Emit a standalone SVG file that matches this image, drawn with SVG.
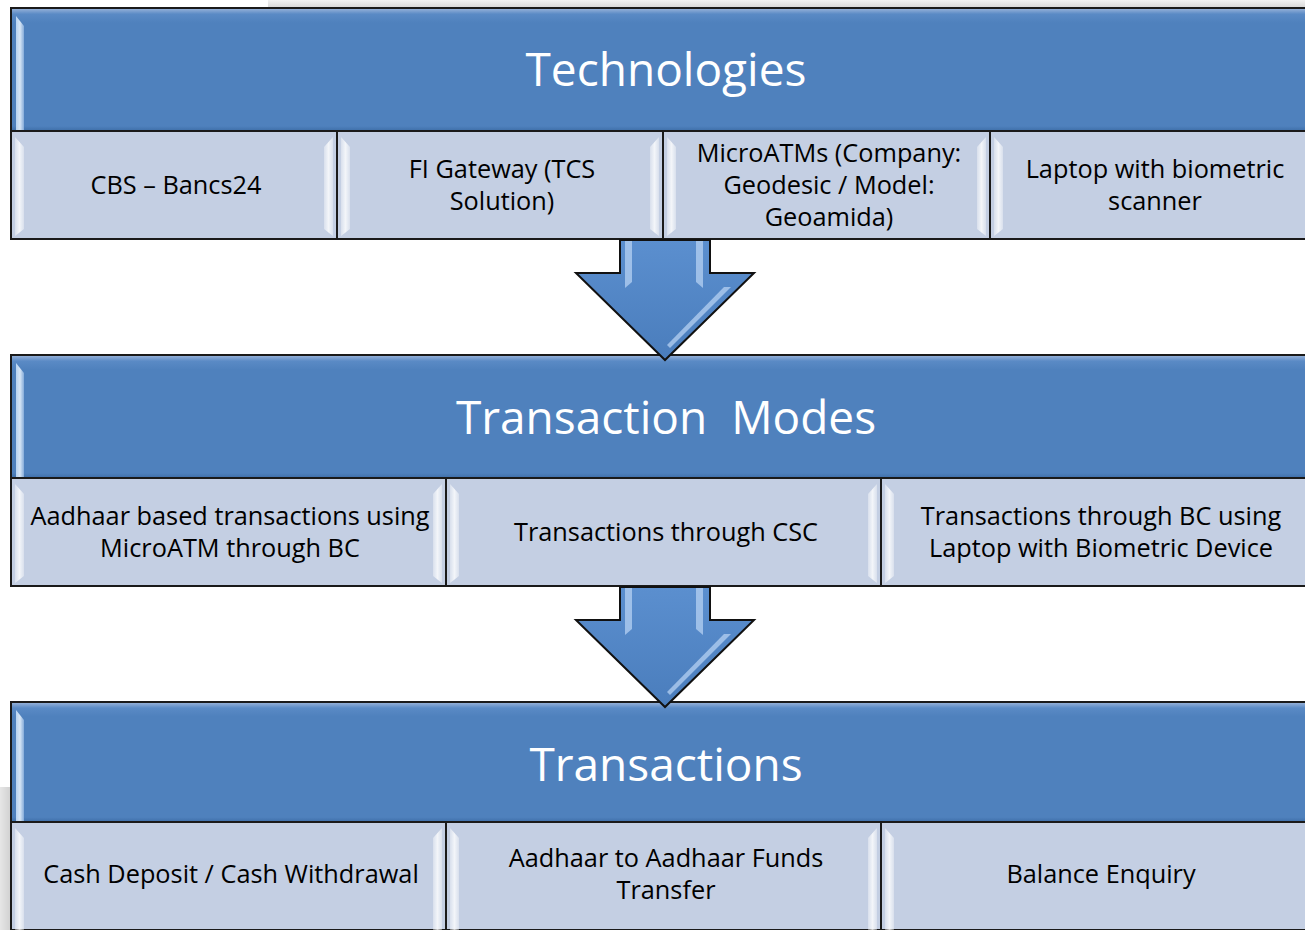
<svg xmlns="http://www.w3.org/2000/svg" width="1305" height="930" viewBox="0 0 1305 930">
  <style>
    .hdr { fill: url(#hdrGrad); stroke: #1a1a1a; stroke-width: 2; }
    .cell { fill: #c4cfe3; stroke: #1a1a1a; stroke-width: 2; }
    .bevel { fill: url(#bevelGrad); }
    .title { font-family: "Open Sans", "Noto Sans", sans-serif; font-size: 46px; fill: #ffffff; text-anchor: middle; white-space: pre; }
    .lbl { font-family: "Open Sans", "Noto Sans", sans-serif; font-size: 25.3px; fill: #000000; text-anchor: middle; }
    .arrow { fill: url(#arrowGrad); stroke: #111111; stroke-width: 2; stroke-linejoin: miter; }
    .glint { fill: #bcd6f5; opacity: 0.7; }
  </style>
  <defs>
    <linearGradient id="hdrGrad" x1="0" y1="0" x2="0" y2="1">
      <stop offset="0" stop-color="#9db6db"/>
      <stop offset="0.05" stop-color="#5a8ac5"/>
      <stop offset="0.12" stop-color="#4f81bd"/>
      <stop offset="0.96" stop-color="#4f81bd"/>
      <stop offset="1" stop-color="#3e6ea8"/>
    </linearGradient>
    <linearGradient id="bevelGrad" x1="0" y1="0" x2="1" y2="0">
      <stop offset="0" stop-color="#ffffff" stop-opacity="0.35"/>
      <stop offset="0.5" stop-color="#ffffff" stop-opacity="0.8"/>
      <stop offset="1" stop-color="#ffffff" stop-opacity="0.35"/>
    </linearGradient>
    <linearGradient id="arrowGrad" x1="0" y1="0" x2="0" y2="1">
      <stop offset="0" stop-color="#5b8fcf"/>
      <stop offset="1" stop-color="#4a7dbc"/>
    </linearGradient>
    <linearGradient id="edgeGrad" x1="0" y1="0" x2="1" y2="0">
      <stop offset="0" stop-color="#c9e2fb"/>
      <stop offset="0.5" stop-color="#eef7ff"/>
      <stop offset="1" stop-color="#8fb3de"/>
    </linearGradient>
    <linearGradient id="topShade" x1="0" y1="0" x2="0" y2="1">
      <stop offset="0" stop-color="#f2f2f2"/>
      <stop offset="1" stop-color="#d6d6d6"/>
    </linearGradient>
    <linearGradient id="sideShade" x1="0" y1="0" x2="1" y2="0">
      <stop offset="0" stop-color="#e6e6e6"/>
      <stop offset="1" stop-color="#d0d0d0"/>
    </linearGradient>
  </defs>

  <!-- page background -->
  <rect x="0" y="0" width="1305" height="930" fill="#ffffff"/>
  <rect x="268" y="0" width="1037" height="8" fill="url(#topShade)"/>
  <rect x="0" y="787" width="11" height="143" fill="url(#sideShade)"/>

  <!-- Block 1: Technologies -->
  <g id="technologies">
    <rect class="hdr" x="11" y="8" width="1309" height="123"/>
    <polygon points="16,16 24,26 24,131 16,131" fill="url(#edgeGrad)" opacity="0.85"/>
    <text class="title" x="666" y="86">Technologies</text>
  </g>
  <g id="tech-cbs">
    <rect class="cell" x="11" y="131" width="326" height="108"/>
    <polygon class="bevel" points="15,137 24,147 24,229 15,236"/>
    <polygon class="bevel" points="333,137 324,147 324,229 333,236"/>
    <text class="lbl" x="176" y="194">CBS – Bancs24</text>
  </g>
  <g id="tech-gateway">
    <rect class="cell" x="337" y="131" width="326" height="108"/>
    <polygon class="bevel" points="341,137 350,147 350,229 341,236"/>
    <polygon class="bevel" points="659,137 650,147 650,229 659,236"/>
    <text class="lbl" x="502" y="178">FI Gateway (TCS</text>
    <text class="lbl" x="502" y="210">Solution)</text>
  </g>
  <g id="tech-microatm">
    <rect class="cell" x="663" y="131" width="327" height="108"/>
    <polygon class="bevel" points="667,137 676,147 676,229 667,236"/>
    <polygon class="bevel" points="986,137 977,147 977,229 986,236"/>
    <text class="lbl" x="829" y="162">MicroATMs (Company:</text>
    <text class="lbl" x="829" y="194">Geodesic / Model:</text>
    <text class="lbl" x="829" y="226">Geoamida)</text>
  </g>
  <g id="tech-laptop">
    <rect class="cell" x="990" y="131" width="330" height="108"/>
    <polygon class="bevel" points="994,137 1003,147 1003,229 994,236"/>
    <text class="lbl" x="1155" y="178">Laptop with biometric</text>
    <text class="lbl" x="1155" y="210">scanner</text>
  </g>

  <!-- Block 2: Transaction Modes -->
  <g id="modes">
    <rect class="hdr" x="11" y="355" width="1309" height="123"/>
    <polygon points="16,363 24,373 24,478 16,478" fill="url(#edgeGrad)" opacity="0.85"/>
    <text class="title" x="666" y="434">Transaction  Modes</text>
  </g>
  <g id="mode-microatm">
    <rect class="cell" x="11" y="478" width="435" height="108"/>
    <polygon class="bevel" points="15,484 24,494 24,576 15,583"/>
    <polygon class="bevel" points="442,484 433,494 433,576 442,583"/>
    <text class="lbl" x="230" y="525">Aadhaar based transactions using</text>
    <text class="lbl" x="230" y="557">MicroATM through BC</text>
  </g>
  <g id="mode-csc">
    <rect class="cell" x="446" y="478" width="435" height="108"/>
    <polygon class="bevel" points="450,484 459,494 459,576 450,583"/>
    <polygon class="bevel" points="877,484 868,494 868,576 877,583"/>
    <text class="lbl" x="666" y="541">Transactions through CSC</text>
  </g>
  <g id="mode-laptop">
    <rect class="cell" x="881" y="478" width="439" height="108"/>
    <polygon class="bevel" points="885,484 894,494 894,576 885,583"/>
    <text class="lbl" x="1101" y="525">Transactions through BC using</text>
    <text class="lbl" x="1101" y="557">Laptop with Biometric Device</text>
  </g>

  <!-- Block 3: Transactions -->
  <g id="transactions">
    <rect class="hdr" x="11" y="702" width="1309" height="120"/>
    <polygon points="16,710 24,720 24,822 16,822" fill="url(#edgeGrad)" opacity="0.85"/>
    <text class="title" x="666" y="781">Transactions</text>
  </g>
  <g id="txn-cash">
    <rect class="cell" x="11" y="822" width="435" height="108"/>
    <polygon class="bevel" points="15,828 24,838 24,930 15,930"/>
    <polygon class="bevel" points="442,828 433,838 433,930 442,930"/>
    <text class="lbl" x="231" y="883">Cash Deposit / Cash Withdrawal</text>
  </g>
  <g id="txn-transfer">
    <rect class="cell" x="446" y="822" width="435" height="108"/>
    <polygon class="bevel" points="450,828 459,838 459,930 450,930"/>
    <polygon class="bevel" points="877,828 868,838 868,930 877,930"/>
    <text class="lbl" x="666" y="867">Aadhaar to Aadhaar Funds</text>
    <text class="lbl" x="666" y="899">Transfer</text>
  </g>
  <g id="txn-balance">
    <rect class="cell" x="881" y="822" width="439" height="108"/>
    <polygon class="bevel" points="885,828 894,838 894,930 885,930"/>
    <text class="lbl" x="1101" y="883">Balance Enquiry</text>
  </g>

  <!-- Connectors: block arrows between the tiers -->
  <g id="connectors">
    <g id="arrow-tech-modes">
      <polygon class="arrow" points="620,240 710,240 710,273 754,273 665,360 576,273 620,273"/>
      <polygon class="glint" points="625,241 632,241 632,282 625,288"/>
      <polygon class="glint" points="696,241 703,241 703,288 696,282"/>
      <polygon class="glint" points="724,287 731,287 670,348 667,345"/>
    </g>
    <g id="arrow-modes-txn">
      <polygon class="arrow" points="620,587 710,587 710,620 754,620 665,707 576,620 620,620"/>
      <polygon class="glint" points="625,588 632,588 632,629 625,635"/>
      <polygon class="glint" points="696,588 703,588 703,635 696,629"/>
      <polygon class="glint" points="724,634 731,634 670,695 667,692"/>
    </g>
  </g>
</svg>
